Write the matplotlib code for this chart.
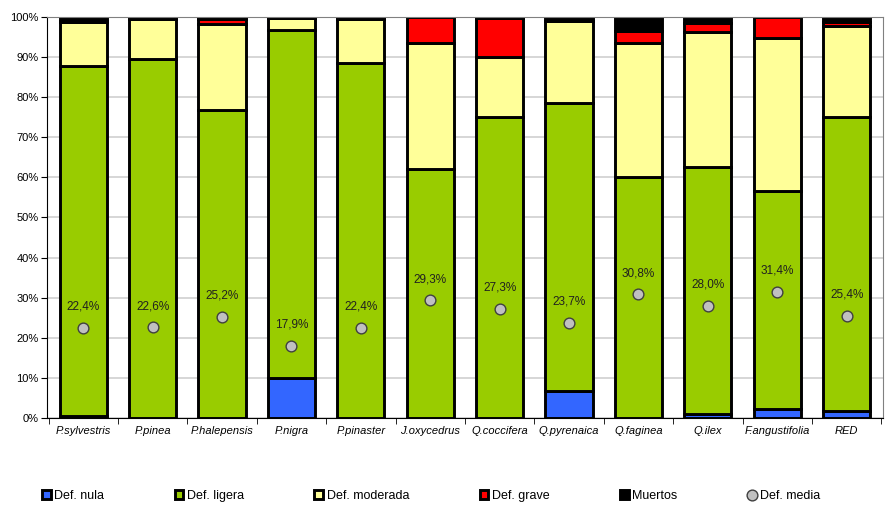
import matplotlib.pyplot as plt
import numpy as np

plt.rcParams['font.family'] = ['Liberation Sans', 'DejaVu Sans']

# ── Data (percent of trees per defoliation class) ───────────────────────────
species = ["P.sylvestris", "P.pinea", "P.halepensis", "P.nigra", "P.pinaster",
           "J.oxycedrus", "Q.coccifera", "Q.pyrenaica", "Q.faginea", "Q.ilex",
           "F.angustifolia", "RED"]
def_nula = [0.5, 0.0, 0.0, 10.1, 0.0, 0.0, 0.0, 6.7, 0.0, 1.0, 2.2, 1.8]
def_ligera = [87.3, 89.6, 76.7, 86.6, 88.4, 62.0, 75.1, 71.9, 60.1, 61.5, 54.4, 73.2]
def_moderada = [11.0, 9.9, 21.6, 3.0, 11.1, 31.4, 14.9, 20.4, 33.3, 33.8, 38.1, 22.6]
def_grave = [0.2, 0.3, 1.2, 0.2, 0.3, 6.5, 9.8, 0.0, 3.1, 2.2, 5.2, 1.0]
muertos = [1.0, 0.2, 0.5, 0.1, 0.2, 0.1, 0.2, 1.0, 3.5, 1.5, 0.1, 1.4]
def_media = [22.4, 22.6, 25.2, 17.9, 22.4, 29.3, 27.3, 23.7, 30.8, 28.0, 31.4, 25.4]

series = [
    ("Def. nula", def_nula, "#3366ff"),
    ("Def. ligera", def_ligera, "#99cc00"),
    ("Def. moderada", def_moderada, "#ffff99"),
    ("Def. grave", def_grave, "#ff0000"),
    ("Muertos", muertos, "#000000"),
]

# ── Plot ────────────────────────────────────────────────────────────────────
fig = plt.figure(figsize=(8.89, 5.08), dpi=100)
ax = fig.add_axes([0.053, 0.177, 0.94, 0.79])

x = np.arange(len(species))
bottom = np.zeros(len(species))
handles = []
for name, vals, col in series:
    vals = np.array(vals)
    b = ax.bar(x, vals, bottom=bottom, width=0.68, color=col,
               edgecolor="black", linewidth=2.1, label=name, zorder=2)
    handles.append(b)
    bottom += vals

pts = ax.scatter(x, def_media, s=60, color="#c0c0c0", edgecolor="#404040",
                 linewidth=1.0, zorder=4, label="Def. media")
handles.append(pts)
for xi, v in zip(x, def_media):
    ax.annotate(f"{v:.1f}%".replace(".", ","), (xi, v), xytext=(0, 11),
                textcoords="offset points", ha="center", va="bottom",
                fontsize=8.5, color="#202020", zorder=5)

ax.set_xlim(-0.52, len(species) - 0.48)
ax.set_ylim(0, 100)
ax.set_yticks(np.arange(0, 101, 10))
ax.set_yticklabels([f"{v}%" for v in range(0, 101, 10)], fontsize=8)
ax.yaxis.grid(True, color="#d0d0d0", lw=1.2, zorder=0)
ax.set_axisbelow(True)

ax.set_xticks(x)
ax.set_xticklabels(species, fontsize=8, style="italic")
ax.tick_params(axis="x", length=0, pad=6)
ax.set_xticks(np.arange(-0.5, len(species), 1), minor=True)
ax.tick_params(axis="x", which="minor", length=4, direction="out")
ax.tick_params(axis="y", length=4, direction="out", pad=2)

for side in ["top", "right"]:
    ax.spines[side].set_color("#808080")
ax.spines["left"].set_color("black")
ax.spines["bottom"].set_color("black")

fig.legend(handles=handles, labels=[s[0] for s in series] + ["Def. media"],
           loc="lower left", bbox_to_anchor=(0.04, 0.0, 0.89, 0.055),
           mode="expand", ncol=6, frameon=False, fontsize=9,
           handlelength=0.7, handleheight=0.7, handletextpad=0.3,
           borderaxespad=0.1)

fig.savefig("out.png", dpi=100)
